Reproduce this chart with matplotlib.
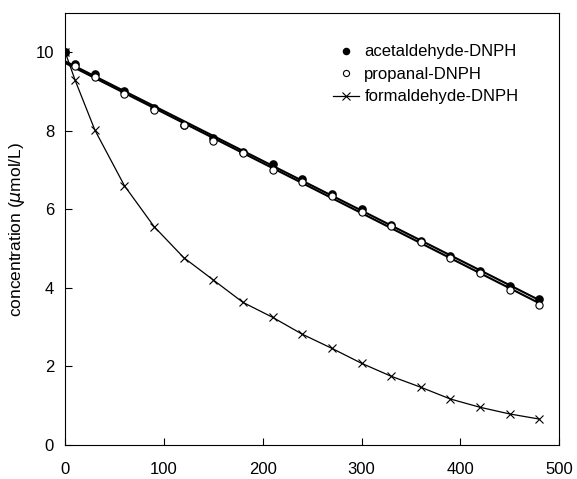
import numpy as np
import matplotlib
matplotlib.use("Agg")
import matplotlib.pyplot as plt

plt.rcParams['font.family'] = ['Liberation Sans', 'DejaVu Sans']

# time (min) and concentrations (umol/L)
t = [0, 10, 30, 60, 90, 120, 150, 180, 210, 240, 270, 300, 330, 360, 390, 420, 450, 480]
acet = [10, 9.70, 9.45, 9.00, 8.57, 8.14, 7.82, 7.45, 7.15, 6.77, 6.40, 6.00, 5.60, 5.20, 4.80, 4.42, 4.05, 3.72]
prop = [10, 9.65, 9.38, 8.93, 8.54, 8.15, 7.75, 7.44, 7.00, 6.70, 6.35, 5.92, 5.58, 5.18, 4.75, 4.38, 3.95, 3.57]
form = [10, 9.29, 8.02, 6.60, 5.56, 4.77, 4.20, 3.63, 3.25, 2.82, 2.46, 2.08, 1.75, 1.47, 1.17, 0.96, 0.79, 0.66]

t = np.array(t)

fig, ax = plt.subplots(figsize=(5.77, 4.79), dpi=100)
fig.subplots_adjust(left=0.113, right=0.969, bottom=0.071, top=0.973)

# linear fits for acetaldehyde / propanal
for y in (acet, prop):
    k, b = np.polyfit(t[1:], y[1:], 1)
    ax.plot([0, 480], [b, b + k * 480], color='black', lw=1.5, zorder=2)

ax.plot(t, acet, 'o', color='black', ms=5.2, ls='none', label='acetaldehyde-DNPH', zorder=3)
ax.plot(t, prop, 'o', mfc='white', mec='black', mew=0.8, ms=5.2, ls='none', label='propanal-DNPH', zorder=3)
ax.plot(t, form, 'x', color='black', ms=6, mew=0.8, ls='-', lw=0.9, label='formaldehyde-DNPH', zorder=3)
ax.plot(t[:1], acet[:1], 's', color='black', ms=5, zorder=4)

ax.set_xlim(0, 500)
ax.set_ylim(0, 11)
ax.set_xticks([0, 100, 200, 300, 400, 500])
ax.set_yticks([0, 2, 4, 6, 8, 10])
ax.tick_params(direction='in', labelsize=12, length=5, pad=8)
ax.tick_params(axis='x', pad=12)
ax.set_ylabel(r'concentration ($\mu$mol/L)', fontsize=12.5, labelpad=6)

leg = ax.legend(loc='upper right', frameon=False, fontsize=12, handlelength=1.6,
                handletextpad=0.3, labelspacing=0.45, markerscale=0.85,
                bbox_to_anchor=(0.948, 0.962))

fig.savefig('out.png', dpi=100)
